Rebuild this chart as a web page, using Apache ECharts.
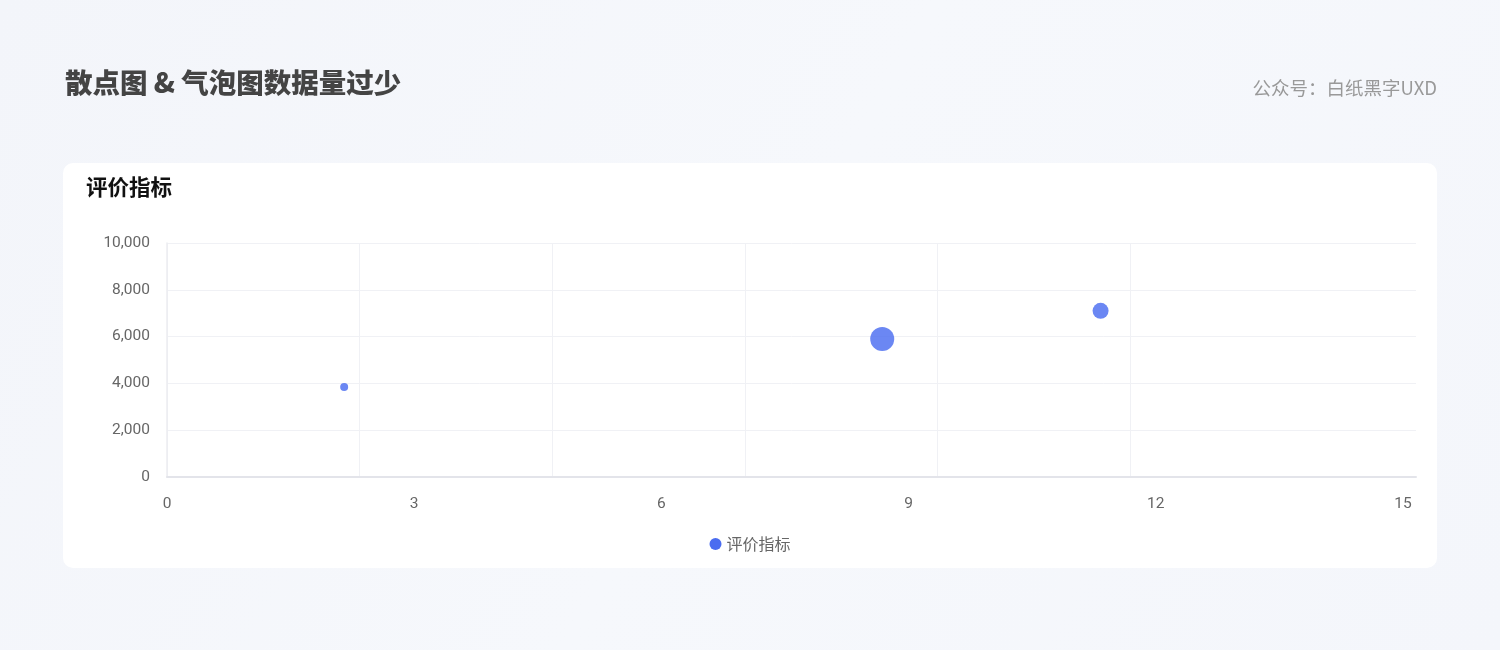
<!DOCTYPE html>
<html>
<head>
<meta charset="utf-8">
<script src="https://cdn.jsdelivr.net/npm/echarts@6/dist/echarts.min.js"></script>
<style>
  html,body{margin:0;padding:0;width:1500px;height:650px;overflow:hidden;
    background:linear-gradient(120deg,#f3f5fa 0%,#f6f8fc 50%,#f4f6fb 100%);}
  #chart{width:1500px;height:650px;}
</style>
</head>
<body>
<div id="chart"></div>
<script>
// ---- data ----
const seriesName = '评价指标';
const xValues = [2.15, 8.68, 11.33];
const yValues = [3850, 5900, 7100];
const bubbleSizes = [8, 24, 16];
const xTickLabels = [0, 3, 6, 9, 12, 15];
const yTickLabels = [0, 2000, 4000, 6000, 8000, 10000];

const chart = echarts.init(document.getElementById('chart'));
const points = xValues.map((x, i) => [x, yValues[i], bubbleSizes[i]]);
const FONT = '"Noto Sans CJK SC", "Noto Sans", sans-serif';
const NUMFONT = 'Roboto, "Noto Sans CJK SC", sans-serif';
const gridLine = '#f0f1f5';

chart.setOption({
  backgroundColor: 'transparent',
  textStyle: { fontFamily: FONT },
  graphic: [
    { type: 'rect', z: -10, shape: { x: 63, y: 163, width: 1374, height: 405, r: 10 },
      style: { fill: '#ffffff' } },
    { type: 'text', left: 65, top: 69,
      style: { text: '散点图 & 气泡图数据量过少', fill: '#444444', font: '900 27.5px ' + FONT } },
    { type: 'text', right: 63, top: 79,
      style: { text: '公众号：白纸黑字UXD', fill: '#999999', font: '400 18.5px ' + FONT } },
    { type: 'text', left: 86, top: 176,
      style: { text: '评价指标', fill: '#111111', font: '700 21.5px ' + FONT } }
  ],
  grid: { left: 167, right: 84, top: 243, bottom: 173, containLabel: false },
  legend: {
    data: [seriesName], bottom: 93, left: 'center', icon: 'circle',
    itemWidth: 12, itemHeight: 12, itemGap: 6,
    textStyle: { color: '#666666', fontSize: 16, fontFamily: FONT },
    itemStyle: { color: '#4a6cf0', opacity: 1 }
  },
  xAxis: [
    {
      type: 'value', min: 0, max: 15 * 1248 / 1235, interval: 3,
      axisLine: { show: true, lineStyle: { color: '#e3e4ea', width: 2 } },
      axisTick: { show: false },
      splitLine: { show: false },
      axisLabel: {
        color: '#666666', fontSize: 15.5, margin: 19, fontFamily: NUMFONT,
        formatter: v => (xTickLabels.indexOf(Math.round(v * 1000) / 1000) >= 0 ? String(v) : '')
      }
    },
    {
      type: 'value', min: 0, max: 1248 / 192.5, interval: 1, position: 'bottom',
      axisLine: { show: false }, axisTick: { show: false }, axisLabel: { show: false },
      splitLine: { show: true, lineStyle: { width: 1,
        color: [gridLine, gridLine, gridLine, gridLine, gridLine, gridLine, 'rgba(0,0,0,0)', 'rgba(0,0,0,0)'] } }
    }
  ],
  yAxis: {
    type: 'value', min: 0, max: 10000, interval: 2000,
    axisLine: { show: true, lineStyle: { color: '#ecedf1', width: 1.5 } },
    axisTick: { show: false },
    splitLine: { show: true, lineStyle: { color: gridLine, width: 1 } },
    axisLabel: {
      color: '#666666', fontSize: 15.5, margin: 17, fontFamily: NUMFONT, padding: [6, 0, 0, 0],
      formatter: v => (yTickLabels.indexOf(v) >= 0 ? v.toLocaleString('en-US') : '')
    }
  },
  series: [{
    name: seriesName, type: 'scatter', xAxisIndex: 0,
    data: points,
    symbolSize: d => d[2],
    itemStyle: { color: '#4a6cf0', opacity: 0.82 },
    emphasis: { disabled: true }
  }]
});
</script>
</body>
</html>
